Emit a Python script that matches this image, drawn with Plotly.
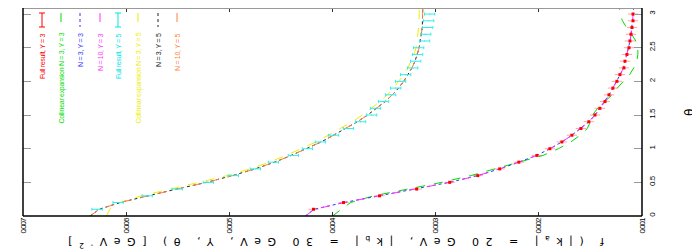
import plotly.graph_objects as go

# ---------------- data ----------------
theta_pts = [0.1, 0.2, 0.3, 0.4, 0.5, 0.6, 0.7, 0.8, 0.9, 1.0,
             1.1, 1.2, 1.3, 1.4, 1.5, 1.6, 1.7, 1.8, 1.9, 2.0,
             2.1, 2.2, 2.3, 2.4, 2.5, 2.6, 2.7, 2.8, 2.9, 3.0, 3.1]
theta_line = [0.0, 0.1, 0.2, 0.3, 0.4, 0.5, 0.6, 0.7, 0.8, 0.9, 1.0,
              1.1, 1.2, 1.3, 1.4, 1.5, 1.6, 1.7, 1.8, 1.9, 2.0,
              2.1, 2.2, 2.3, 2.4, 2.5, 2.6, 2.7, 2.8, 2.9, 3.0, 3.1]

# Y = 3 group
full_y3 = [0.004184, 0.003893, 0.003544, 0.003184, 0.002864, 0.002592, 0.002379, 0.002194,
           0.002019, 0.001893, 0.001777, 0.001680, 0.001592, 0.001515, 0.001456, 0.001408,
           0.001359, 0.001320, 0.001282, 0.001243, 0.001214, 0.001175, 0.001165, 0.001146,
           0.001126, 0.001117, 0.001107, 0.001097, 0.001087, 0.001087, 0.001078]
full_y3_err = [0.00005] * 31
coll_y3 = [0.00400, 0.003913, 0.003825, 0.00360, 0.00326, 0.00294, 0.00266, 0.00242,
           0.00220, 0.00196, 0.00181, 0.00169, 0.00160, 0.00153, 0.00150, 0.00148,
           0.00143, 0.00136, 0.00129, 0.00124, 0.00118, 0.00112, 0.00108, 0.00105,
           0.00104, 0.00104, 0.00106, 0.00110, 0.00115, 0.00119, 0.00121, 0.00122]
n3_y3 = [0.004262, 0.004180, 0.003890, 0.003545, 0.003186, 0.002866, 0.002594, 0.002380,
         0.002195, 0.002020, 0.001893, 0.001777, 0.001680, 0.001592, 0.001515, 0.001456,
         0.001408, 0.001359, 0.001320, 0.001282, 0.001243, 0.001212, 0.001180, 0.001163,
         0.001146, 0.001128, 0.001116, 0.001106, 0.001097, 0.001090, 0.001086, 0.001082]
n10_y3 = [0.004262, 0.004175, 0.003885, 0.003540, 0.003182, 0.002862, 0.002590, 0.002378,
          0.002192, 0.002018, 0.001891, 0.001776, 0.001679, 0.001591, 0.001514, 0.001455,
          0.001407, 0.001358, 0.001319, 0.001281, 0.001242, 0.001211, 0.001179, 0.001162,
          0.001145, 0.001127, 0.001115, 0.001105, 0.001096, 0.001089, 0.001085, 0.001081]

# Y = 5 group
full_y5 = [0.006282, 0.006078, 0.005796, 0.005505, 0.005204, 0.004961, 0.004748, 0.004573,
           0.004379, 0.004243, 0.004117, 0.003990, 0.003845, 0.003728, 0.003621, 0.003583,
           0.003505, 0.003437, 0.003388, 0.003340, 0.003291, 0.003223, 0.003194, 0.003175,
           0.003165, 0.003107, 0.003097, 0.003078, 0.003068, 0.003058, 0.003019]
full_y5_err = [0.00005] * 31
coll_y5 = [0.00619, 0.00616, 0.00606, 0.00585, 0.00557, 0.00528, 0.00502, 0.00480,
           0.00461, 0.00445, 0.00430, 0.00416, 0.00404, 0.00392, 0.00381, 0.00371,
           0.00362, 0.00354, 0.00347, 0.00341, 0.00336, 0.00331, 0.00327, 0.00324,
           0.00321, 0.00319, 0.00318, 0.00317, 0.003165, 0.00316, 0.00316, 0.00316]
n3_y5 = [0.00635, 0.00626, 0.00606, 0.00580, 0.00551, 0.00522, 0.00497, 0.00475,
         0.00456, 0.00440, 0.00425, 0.00411, 0.00399, 0.00387, 0.00376, 0.00366,
         0.00357, 0.00349, 0.00342, 0.00336, 0.00331, 0.00327, 0.00323, 0.00320,
         0.00318, 0.00316, 0.00315, 0.00314, 0.00313, 0.003128, 0.003126, 0.003125]
n10_y5 = [0.00635, 0.00626, 0.00606, 0.00580, 0.00551, 0.00522, 0.00497, 0.00475,
          0.00456, 0.00440, 0.00425, 0.00411, 0.00399, 0.00387, 0.00376, 0.00366,
          0.00357, 0.00349, 0.00342, 0.00336, 0.00331, 0.00327, 0.00323, 0.00320,
          0.00318, 0.00316, 0.00315, 0.00314, 0.00313, 0.003128, 0.003126, 0.003125]

f_ticks = [0.001, 0.002, 0.003, 0.004, 0.005, 0.006, 0.007]
f_labels = ["0.001", "0.002", "0.003", "0.004", "0.005", "0.006", "0.007"]
theta_ticks = [0, 0.5, 1, 1.5, 2, 2.5, 3]
theta_labels = ["0", "0.5", "1", "1.5", "2", "2.5", "3"]

legend_names = ["Full result, Y = 3", "Collinear expansion N = 3, Y = 3", "N = 3, Y = 3",
                "N = 10, Y = 3", "Full result, Y = 5", "Collinear expansion N = 3, Y = 5",
                "N = 3, Y = 5", "N = 10, Y = 5"]
colors = ["#ff0000", "#00dd00", "#3333ff", "#ff33ff", "#00e5e5", "#eeee00", "#222222", "#ff7f40"]
dashes = ["solid", "dash", "dot", "dash", "solid", "dash", "dot", "dash"]

# ---------------- figure ----------------
fig = go.Figure()

line_series = [(coll_y3, 1), (n3_y3, 2), (n10_y3, 3), (coll_y5, 5), (n3_y5, 6), (n10_y5, 7)]
for vals, i in line_series:
    fig.add_trace(go.Scatter(x=vals, y=theta_line, mode="lines",
                             line=dict(color=colors[i], width=1, dash=dashes[i]),
                             name=legend_names[i], showlegend=False))

fig.add_trace(go.Scatter(x=full_y3, y=theta_pts, mode="markers",
                         marker=dict(color="#ff0000", size=3, symbol="square"),
                         error_x=dict(type="data", array=full_y3_err, color="rgba(255,90,90,0.55)",
                                      thickness=1, width=0),
                         name=legend_names[0], showlegend=False))
fig.add_trace(go.Scatter(x=full_y5, y=theta_pts, mode="markers",
                         marker=dict(color="#00e5e5", size=1),
                         error_x=dict(type="data", array=full_y5_err, color="#33eeee",
                                      thickness=1, width=1.5),
                         name=legend_names[4], showlegend=False))

# The page body has an 8px margin, so the figure is drawn at page offset (8, 8).
OFF = 8
FIG_W, FIG_H = 700 - OFF, 250 - OFF
# plot area in page pixels: x 23..642, y 8..216
L, R, T, B = 23, 642, 8, 216
W, H = R - L, B - T


def px(x):
    return (x - L) / W


def py(y):
    return (B - y) / H


shapes = [
    dict(type="line", xref="paper", yref="paper", x0=0, x1=1, y0=1, y1=1, line=dict(color="#999999", width=2)),
    dict(type="line", xref="paper", yref="paper", x0=0, x1=1, y0=0, y1=0, line=dict(color="#000000", width=1.5)),
    dict(type="line", xref="paper", yref="paper", x0=0, x1=0, y0=0, y1=1, line=dict(color="#000000", width=1.5)),
    dict(type="line", xref="paper", yref="paper", x0=1, x1=1, y0=0, y1=1, line=dict(color="#000000", width=1.5)),
]
annotations = []

# legend (rotated, as in the reference)
col_x = [42, 61, 80, 100, 118, 138, 158, 177]
for i, cx in enumerate(col_x):
    shapes.append(dict(type="line", xref="paper", yref="paper", x0=px(cx), x1=px(cx),
                       y0=py(13), y1=py(27), line=dict(color=colors[i], width=1,
                                                       dash="solid" if i in (0, 4) else dashes[i])))
    if i in (0, 4):
        for yy in (13, 27):
            shapes.append(dict(type="line", xref="paper", yref="paper", x0=px(cx - 3), x1=px(cx + 3),
                               y0=py(yy), y1=py(yy), line=dict(color=colors[i], width=1)))
    annotations.append(dict(text='<span style="letter-spacing:-0.3px">' + legend_names[i] + '</span>',
                            xref="paper", yref="paper", x=px(cx), y=py(31),
                            xanchor="center", yanchor="top", textangle=-90, showarrow=False,
                            font=dict(size=7, color=colors[i], family="Liberation Sans")))

# axis titles (rotated as in the reference)
annotations.append(dict(text='<span style="letter-spacing:6.5px">f (|k<sub>a</sub>| = 20 GeV, |k<sub>b</sub>| = 30 GeV, Y, θ) [GeV<sup>-2</sup>]</span>',
                        xref="paper", yref="paper", x=px(333), y=py(242), xanchor="center", yanchor="middle",
                        textangle=180, showarrow=False,
                        font=dict(size=11, color="#000000", family="DejaVu Sans")))
annotations.append(dict(text="θ", xref="paper", yref="paper", x=px(690), y=py(113),
                        xanchor="center", yanchor="middle", textangle=-90, showarrow=False,
                        font=dict(size=12, color="#000000", family="DejaVu Sans")))

f_ticktext = ['<span style="letter-spacing:-1px">' + t + '</span>' for t in f_labels]
theta_ticktext = ['<span style="letter-spacing:-0.5px">' + t + '</span>' for t in theta_labels]

fig.update_layout(
    width=FIG_W, height=FIG_H,
    margin=dict(l=L - OFF, r=FIG_W - (R - OFF), t=T - OFF, b=FIG_H - (B - OFF), pad=0, autoexpand=False),
    plot_bgcolor="white", paper_bgcolor="white",
    showlegend=False,
    shapes=shapes, annotations=annotations,
    font=dict(family="Liberation Sans", size=8, color="#000000"),
    xaxis=dict(range=[0.007, 0.001], tickvals=f_ticks, ticktext=f_ticktext, tickangle=-90,
               ticks="inside", ticklen=4, tickcolor="#333333", mirror="allticks", automargin=False,
               showgrid=False, zeroline=False, showline=False, ticklabelstandoff=0,
               tickfont=dict(size=8, family="Liberation Sans")),
    yaxis=dict(range=[0, 3.09], tickvals=theta_ticks, ticktext=theta_ticktext, tickangle=-90,
               side="right", ticks="inside", ticklen=8, tickcolor="#999999", mirror="allticks",
               automargin=False,
               showgrid=False, zeroline=False, showline=False, ticklabelstandoff=4,
               tickfont=dict(size=8, family="Liberation Sans")),
)

fig.write_html("out.html")
